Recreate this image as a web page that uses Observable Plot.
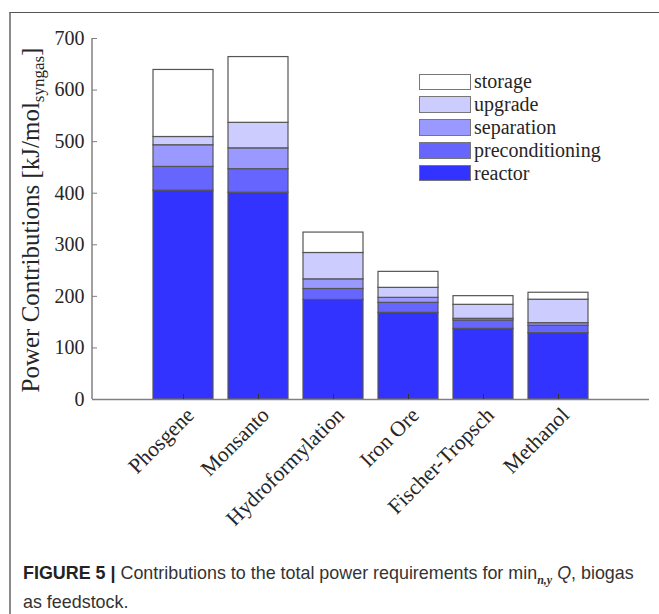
<!DOCTYPE html>
<html><head><meta charset="utf-8">
<script src="https://cdn.jsdelivr.net/npm/d3@7"></script>
<script src="https://cdn.jsdelivr.net/npm/@observablehq/plot@0.6"></script>
<style>
body{margin:0;background:#fff;}
#fig{position:relative;width:659px;height:614px;overflow:hidden;background:#fff;}
#border{position:absolute;left:9px;top:12px;right:-2px;bottom:-2px;border-left:2px solid #8a8a8a;border-top:1.5px solid #555;}
#chart{position:absolute;left:0;top:0;}
#legend{position:absolute;left:419px;top:70.5px;font-family:"Liberation Serif",serif;font-size:20px;color:#262626;}
.row{display:flex;align-items:center;height:22.8px;}
.sw{box-sizing:border-box;width:52px;height:16.5px;border:1.4px solid #777;margin-right:3px;}
#caption{position:absolute;left:23px;top:562px;font-family:"Liberation Sans",Arial,sans-serif;font-size:17.9px;line-height:22px;color:#333;white-space:nowrap;}
#caption b{color:#222;}
#caption sub{font-family:"Liberation Serif",serif;font-weight:bold;font-style:italic;font-size:12px;}
</style></head><body>
<div id="fig"><div id="border"></div><div id="chart"></div><div id="legend"></div>
<div id="caption"><b>FIGURE 5 |</b> Contributions to the total power requirements for min<sub>n,y</sub> <i>Q</i>, biogas<br>as feedstock.</div></div>
<script>
const processes = ["Phosgene","Monsanto","Hydroformylation","Iron Ore","Fischer-Tropsch","Methanol"];
const components = ["reactor","preconditioning","separation","upgrade","storage"];
const legendOrder = ["storage","upgrade","separation","preconditioning","reactor"];
const reactor         = [405, 401, 193, 168, 137, 128.6];
const preconditioning = [46, 45.6, 21.3, 19.4, 16.2, 14.4];
const separation      = [42, 40.4, 18.7, 9.7, 3.3, 5];
const upgrade         = [16, 49.5, 51.1, 19.4, 27.1, 45.5];
const storage         = [130, 127.5, 39.6, 31, 16.8, 13.5];
const colors = ["#3333ff","#6666ff","#9999ff","#ccccff","#ffffff"];
const yTicks = [0,100,200,300,400,500,600,700];

const series = {reactor, preconditioning, separation, upgrade, storage};
const rows = [];
processes.forEach((p,i) => components.forEach(c => rows.push({process:p, component:c, value:series[c][i]})));

const yAxisLine = (index, scales, values, dims) =>
  d3.create("svg:line")
    .attr("x1", dims.marginLeft).attr("x2", dims.marginLeft)
    .attr("y1", scales.y(0)).attr("y2", scales.y(700))
    .attr("stroke", "#808080").attr("stroke-width", 1.5).node();

const plot = Plot.plot({
  width: 659, height: 540,
  marginLeft: 92, marginRight: 10, marginTop: 38, marginBottom: 141,
  style: {fontFamily: "Liberation Serif", fontSize: "20px", color: "#262626", background: "transparent"},
  x: {domain: processes, paddingInner: 0.2, paddingOuter: 0.813, label: null},
  y: {domain: [0,700], label: null},
  color: {domain: components, range: colors},
  marks: [
    Plot.barY(rows, Plot.stackY({x: "process", y: "value", fill: "component", stroke: "#555", strokeWidth: 1.2})),
    Plot.ruleY([0], {stroke: "#808080", strokeWidth: 1.5}),
    yAxisLine,
    Plot.axisY({ticks: yTicks, tickSize: 0, tickPadding: 8, fontSize: 20, fill: "#262626", label: null}),
    Plot.axisY({ticks: yTicks, tickSize: 5, dx: 5, tickFormat: () => "", stroke: "#808080", label: null}),
    Plot.axisX({tickSize: 5, dy: -5, tickFormat: () => "", stroke: "#333", label: null}),
    Plot.axisX({tickSize: 0, tickRotate: -45, tickPadding: 4, dx: 7, dy: 8, fontSize: 21.5, fill: "#262626", label: null})
  ]
});
document.getElementById("chart").appendChild(plot);

// y-axis label with subscript
const svg = d3.select(plot);
const lab = svg.append("text")
  .attr("transform", "translate(39,220) rotate(-90)")
  .attr("text-anchor", "middle")
  .attr("font-family", "Liberation Serif").attr("font-size", 25).attr("fill", "#262626");
lab.append("tspan").text("Power Contributions [kJ/mol");
lab.append("tspan").attr("font-size", 17).attr("dy", 5).text("syngas");
lab.append("tspan").attr("dy", -5).text("]");

// legend
const color = plot.scale("color");
const leg = document.getElementById("legend");
legendOrder.forEach(c => {
  const i = color.domain.indexOf(c);
  const r = document.createElement("div"); r.className = "row";
  const s = document.createElement("div"); s.className = "sw"; s.style.background = color.range[i];
  const t = document.createElement("span"); t.textContent = c;
  r.appendChild(s); r.appendChild(t); leg.appendChild(r);
});
</script>
</body></html>
